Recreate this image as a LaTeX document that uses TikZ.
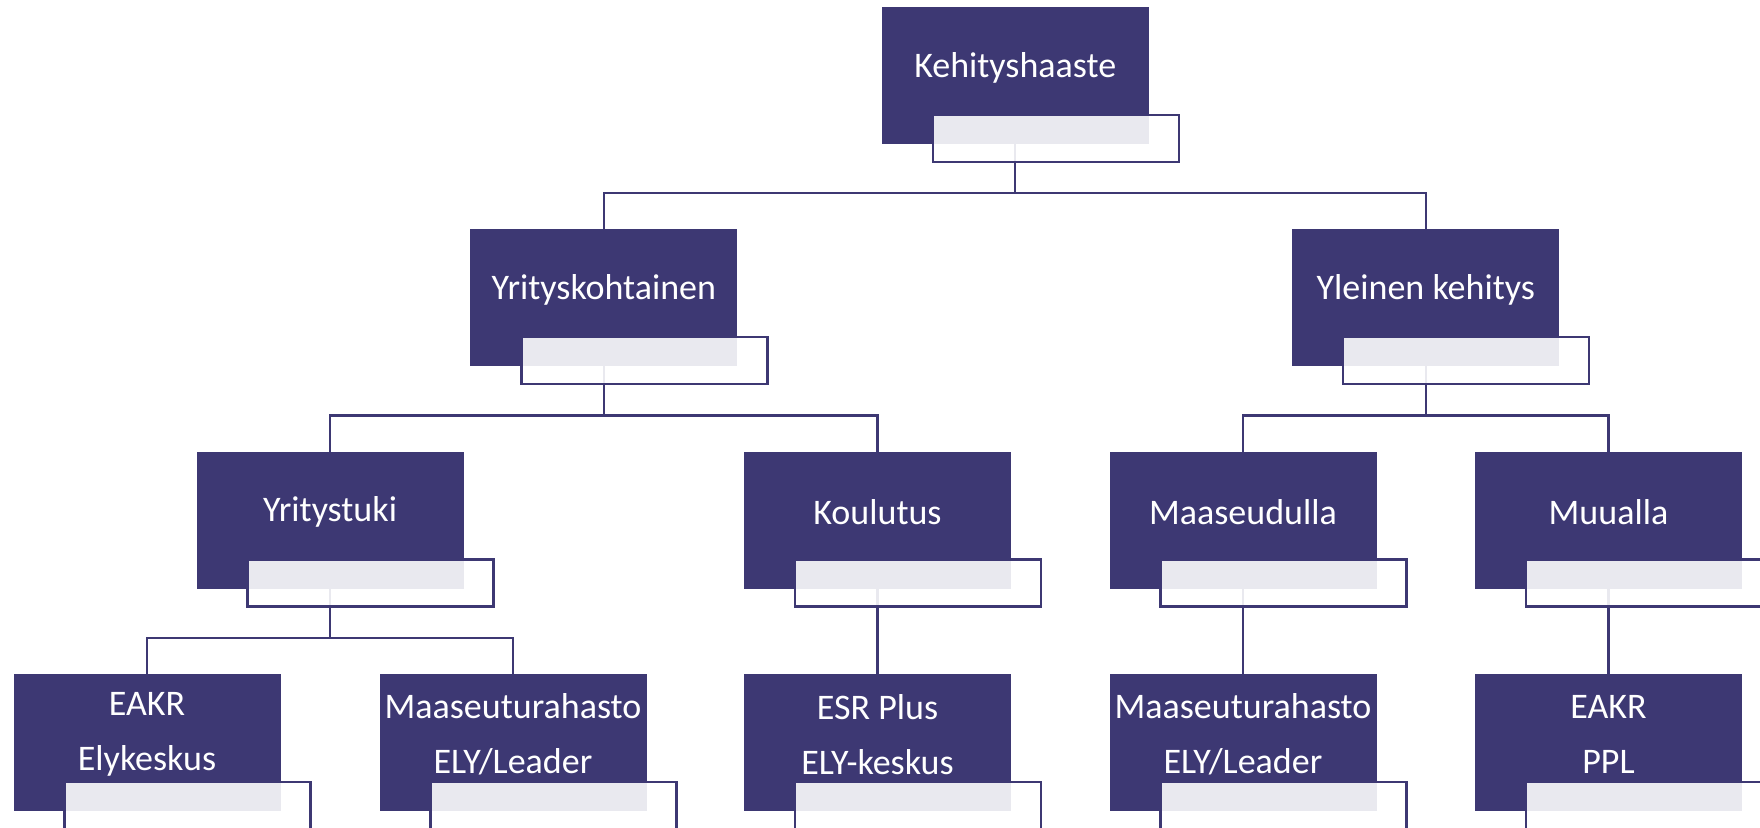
\documentclass[tikz,border=0pt]{standalone}
\usepackage{fontspec}
\setmainfont{Carlito}
\usetikzlibrary{backgrounds}
\definecolor{boxc}{RGB}{61,56,115}
\newcommand\mkbox[4]{%
  \node[box] (#1) at (#2,#3) {};
  \draw[band] ([xshift=25.5pt,yshift=14.5pt]#1.south west) rectangle ([xshift=15pt,yshift=-9pt]#1.south east);
  \node[lbl] (#1t) at ([yshift=4pt]#1.center) {#4};}
\begin{document}
\begin{tikzpicture}[x=0.5pt,y=-0.5pt,
  box/.style={fill=boxc, minimum width=133.5pt, minimum height=68.5pt, inner sep=0pt, outer sep=0pt},
  lbl/.style={text=white, font=\fontsize{18}{27.5}\selectfont, align=center, inner sep=0pt},
  conn/.style={draw=boxc, line width=1.1pt},
  band/.style={fill=white, fill opacity=0.89, draw=boxc, line width=1.1pt}]
\useasboundingbox (0,0) rectangle (1760,827);
\clip (0,0) rectangle (1760,827);
\mkbox{k}{1015.2}{75.5}{Kehityshaaste}
\mkbox{a}{603.9}{297.8}{Yrityskohtainen}
\mkbox{b}{1425.8}{297.8}{Yleinen kehitys}
\mkbox{c}{330}{520}{Yritystuki}
\mkbox{d}{877.5}{520}{Koulutus}
\mkbox{e}{1243}{520}{Maaseudulla}
\mkbox{f}{1608.5}{520}{Muualla}
\mkbox{g}{147}{742.5}{EAKR\\Elykeskus}
\mkbox{h}{513}{742.5}{Maaseuturahasto\\ELY/Leader}
\mkbox{i}{877.5}{742.5}{ESR Plus\\ELY-keskus}
\mkbox{j}{1243}{742.5}{Maaseuturahasto\\ELY/Leader}
\mkbox{l}{1608.5}{742.5}{EAKR\\PPL}
\begin{scope}[on background layer]
\draw[conn] (k.south) |- ([yshift=18pt]a.north) -- (a.north);
\draw[conn] (k.south) |- ([yshift=18pt]b.north) -- (b.north);
\draw[conn] (a.south) |- ([yshift=18pt]c.north) -- (c.north);
\draw[conn] (a.south) |- ([yshift=18pt]d.north) -- (d.north);
\draw[conn] (b.south) |- ([yshift=18pt]e.north) -- (e.north);
\draw[conn] (b.south) |- ([yshift=18pt]f.north) -- (f.north);
\draw[conn] (c.south) |- ([yshift=18pt]g.north) -- (g.north);
\draw[conn] (c.south) |- ([yshift=18pt]h.north) -- (h.north);
\draw[conn] (d.south) -- (i.north);
\draw[conn] (e.south) -- (j.north);
\draw[conn] (f.south) -- (l.north);
\end{scope}
\end{tikzpicture}
\end{document}
